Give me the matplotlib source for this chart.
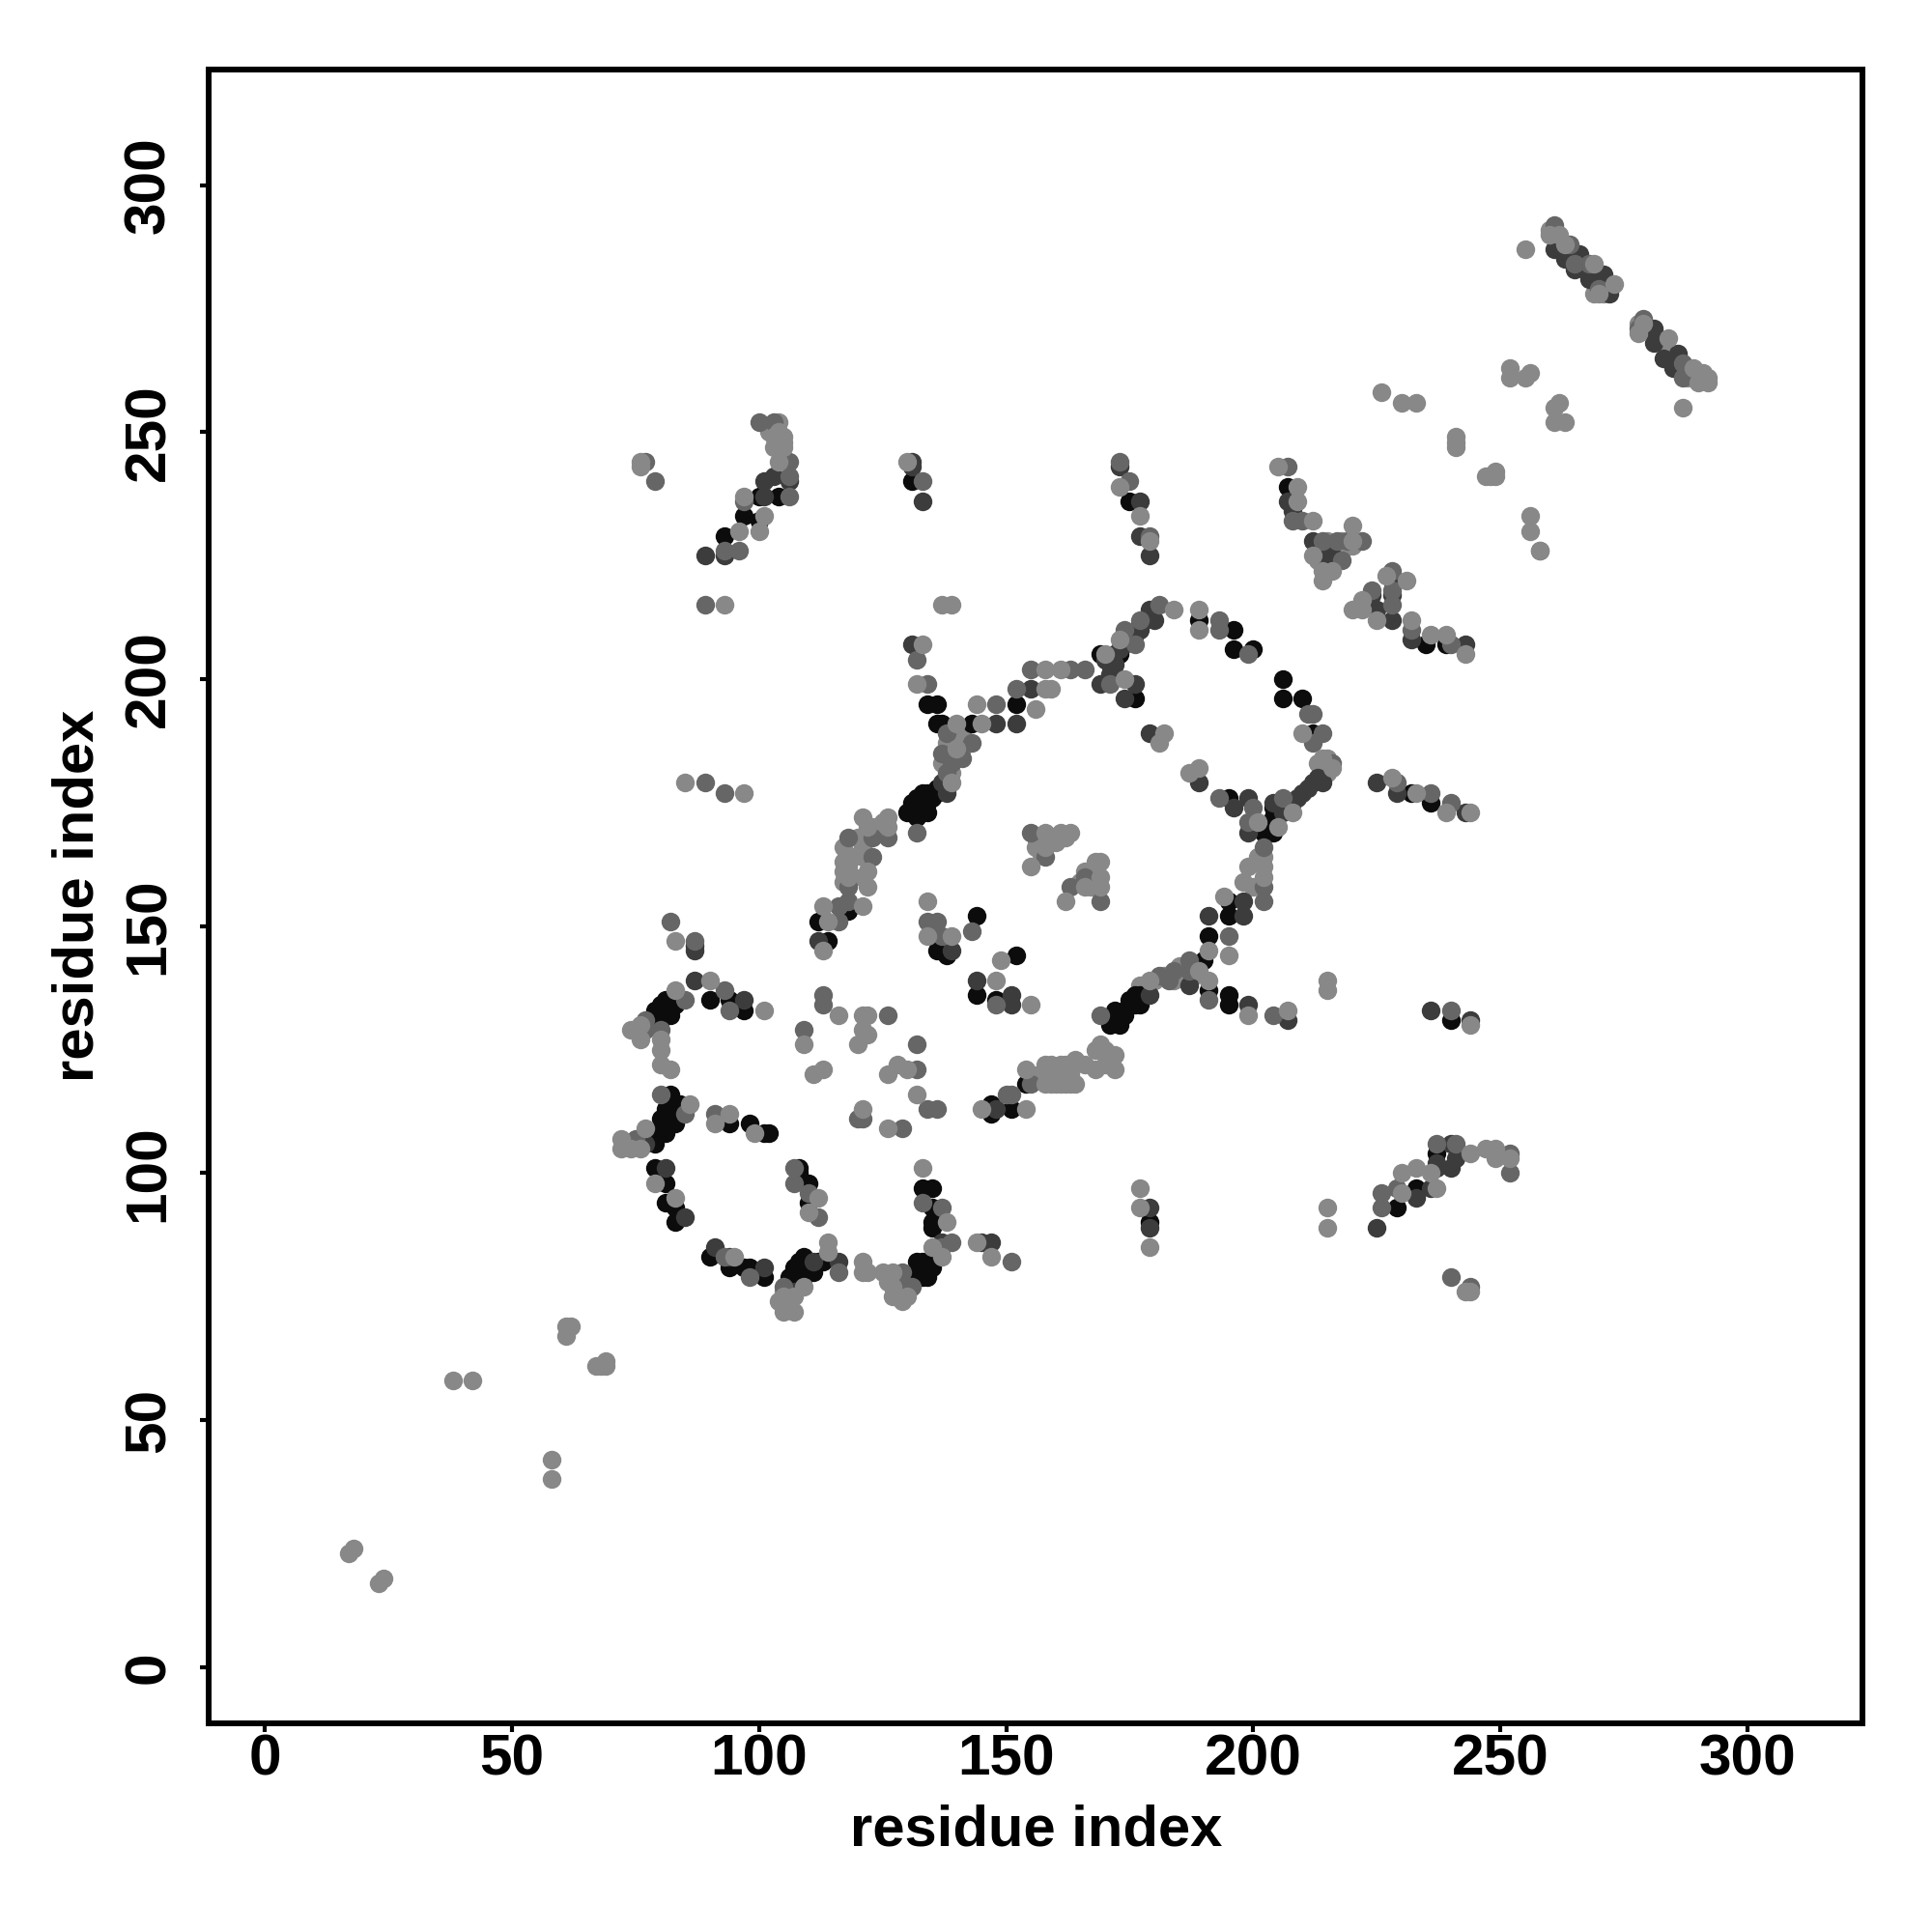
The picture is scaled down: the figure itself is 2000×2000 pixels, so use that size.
import numpy as np
import matplotlib
matplotlib.use("Agg")
import matplotlib.pyplot as plt

# residue contacts, one list per grey level
under_pts = [(117,166),(117,163),(117,161),(117,159),(119,164),(119,160),(121,166),(121,164),(121,160),(120,168),(123,170),(125,171),
    (159,118),(161,118),(162,118),(163,118),(161,120),(163,120),(160,120),(157,120),(156,119),(158,120),(159,122),(162,122),(155,120),(166,122),(168,121),(170,122),
    (169,126),(170,125),(172,124),(168,125),(172,121),(177,138),(180,139),(182,140),(184,139),(186,140),(188,140),(189,142),(185,142),(199,162),(201,164),(202,164),(200,158),
    (260,291),(261,290),(262,289),(263,287),(264,286),(266,284),(267,283),(269,282),(271,280),(272,279),(271,278),(269,278),(278,272),(280,271),(282,269),(283,268),(285,266),
    (286,264),(288,262),(289,261),(290,262),(288,261),(105,249),(104,249),(104,252),(102,250),(103,247),(167,160),(167,158),(168,161),(168,163),(168,159),(165,159),(166,161),
    (156,168),(157,167),(159,168),(160,168),(158,168),(156,166),(157,165),(158,167),(162,168),(137,183),(139,187),(140,188),(141,186),(139,181),(138,187),(141,189),(142,187),
    (213,227),(215,226),(217,226),(216,224),(218,226),(215,228),(218,228),(220,227),(213,224),(215,223),(105,76),(106,75),(104,74),(105,73),(106,73),(127,78),(128,76),(126,78),
    (128,78),(129,76),(213,183),(215,181),(215,184)]
black_pts = [(90,135),(94,135),(97,133),(81,135),(79,133),(82,132),(80,131),(82,116),(82,113),(83,110),(80,111),(79,108),(81,108),(79,106),
    (94,110),(98,110),(101,108),(102,108),(108,101),(108,100),(110,98),(110,94),(79,101),(81,98),(81,94),(83,93),(83,90),(90,83),(94,81),(97,81),(98,81),(101,79),
    (106,79),(107,81),(109,83),(108,79),(109,79),(111,80),(113,82),(131,79),(133,79),(135,81),(132,82),(133,82),(135,90),(135,89),(135,93),(133,97),(135,97),
    (147,114),(147,112),(151,113),(154,118),(134,195),(136,195),(136,191),(137,191),(143,191),(152,195),(169,205),(172,205),(173,205),(176,196),(189,212),
    (196,210),(196,206),(200,206),(206,200),(206,196),(210,196),(212,189),(195,176),(204,174),(204,172),(202,169),(204,169),(135,177),(136,177),(133,177),(134,175),
    (131,175),(130,173),(132,172),(112,151),(114,147),(118,153),(136,148),(136,145),(138,144),(144,152),(152,144),(144,136),(148,135),(173,130),(172,131),(174,132),
    (177,134),(176,136),(175,134),(190,143),(191,137),(195,136),(195,134),(191,148),(195,152),(195,155),(232,177),(236,175),(235,207),(239,207),(207,239),
    (104,237),(100,237),(97,233),(100,232),(93,229),(131,240),(175,236),(240,131),(237,104),(233,97),(229,93),(179,90),
    (174,133),(175,135),(172,133),(171,130),(173,132),(176,134),(177,136),(131,173),(133,174),(135,176),(136,178),(134,173),(132,176),(134,177),
    (81,133),(83,134),(79,131),(80,134),(84,135),(81,110),(80,109),(82,111),(83,112),(81,113),(84,114),(107,80),(108,82),(109,81),(110,82),(112,82),
    (133,80),(134,81),(132,80),(134,79),(136,83)]
dark_pts = [(87,146),(87,145),(87,139),(97,135),(77,106),(81,101),(85,91),(91,85),(94,83),(101,81),(107,76),(111,82),(116,82),(137,86),(145,86),(147,86),(148,113),
    (144,139),(151,136),(151,134),(148,191),(152,191),(155,198),(169,199),(177,210),(179,214),(176,199),(174,196),(179,189),(189,179),(131,207),(196,174),(199,176),
    (199,169),(210,177),(212,179),(214,179),(191,152),(198,152),(198,155),(187,138),(179,136),(207,131),(199,134),(139,145),(112,147),(207,236),(208,234),
    (214,225),(216,225),(228,220),(228,217),(228,212),(225,214),(224,217),(232,208),(243,207),(225,179),(229,177),(243,173),(212,228),(101,240),(103,241),(106,240),
    (101,237),(89,225),(93,225),(131,244),(131,243),(133,236),(177,229),(179,225),(177,236),(173,243),(236,133),(244,131),(240,106),(241,103),(237,101),(237,102),
    (240,101),(236,97),(233,95),(225,89),(261,287),(263,285),(266,286),(265,283),(268,281),(271,282),(272,278),(281,271),(281,268),(283,265),(286,266),(285,263),
    (179,89),(179,93),(170,204),(171,203),(173,206),(174,207),(175,208),(176,209),(178,212),(179,213),(180,212),(177,211),(171,201),(172,203),
    (137,179),(138,177),(204,175),(206,173),(208,175),(209,176),(211,178),(207,174),(213,180)]
mid_pts = [(82,151),(87,147),(93,137),(94,133),(85,135),(77,131),(77,129),(80,129),(80,116),(85,112),(75,107),(91,112),(113,136),(113,134),(126,132),(109,129),(132,126),
    (132,121),(134,113),(136,113),(129,109),(120,111),(121,111),(107,101),(107,98),(110,96),(112,91),(93,83),(98,79),(116,80),(105,77),(129,80),(131,77),(129,77),
    (137,85),(139,86),(133,94),(137,93),(151,82),(150,116),(151,116),(155,118),(148,134),(148,195),(152,198),(155,202),(163,202),(166,202),(171,199),(176,207),(174,210),
    (177,212),(181,215),(193,212),(193,210),(199,205),(138,181),(137,185),(141,184),(138,189),(139,183),(143,187),(132,169),(118,168),(123,168),(126,168),(123,164),
    (118,158),(118,155),(116,154),(116,151),(155,169),(158,164),(166,160),(163,158),(169,155),(134,151),(136,151),(137,148),(143,149),(169,132),(181,140),(184,141),
    (183,139),(187,143),(187,141),(191,135),(204,132),(195,148),(202,155),(202,158),(202,166),(199,171),(193,176),(200,174),(206,176),(216,183),(211,193),(212,193),
    (214,189),(212,187),(207,243),(208,232),(210,232),(214,228),(217,228),(219,228),(222,228),(218,224),(228,222),(228,218),(228,215),(224,218),(232,210),(240,175),
    (236,177),(229,179),(240,207),(258,226),(237,106),(241,106),(226,96),(229,97),(226,93),(252,104),(252,100),(240,133),(240,79),(244,77),(100,252),(103,252),(106,241),
    (106,237),(97,236),(96,226),(93,226),(89,215),(89,179),(93,177),(79,240),(77,244),(133,240),(132,204),(134,199),(106,244),(261,292),(264,288),(265,284),(268,284),
    (279,273),(278,271),(287,261),(287,264),(270,279),(175,240),(173,244),(179,229)]
light_pts = [(83,147),(90,139),(101,133),(83,137),(76,130),(74,129),(76,127),(80,127),(80,125),(80,122),(82,121),(86,114),(72,107),(72,105),(74,105),(76,105),(77,109),
    (91,110),(94,112),(99,108),(116,132),(121,132),(122,132),(121,129),(122,128),(120,126),(109,126),(111,120),(113,121),(126,120),(128,122),(130,121),(132,116),(121,113),
    (126,109),(110,92),(112,95),(83,95),(79,98),(95,83),(133,101),(121,82),(121,80),(122,80),(125,80),(127,80),(127,77),(127,75),(129,74),(130,75),(135,85),(137,83),
    (138,90),(114,86),(114,84),(109,77),(105,75),(105,72),(107,72),(106,74),(107,75),(144,86),(147,83),(145,113),(154,113),(154,121),(158,122),(158,118),(160,118),(164,118),
    (164,123),(161,122),(133,207),(132,199),(144,195),(145,191),(140,191),(156,194),(158,202),(161,202),(159,198),(158,198),(170,205),(173,208),(184,214),(174,200),(182,189),
    (181,187),(189,214),(189,210),(139,179),(140,186),(126,172),(121,172),(122,170),(126,170),(118,164),(118,162),(122,161),(118,160),(122,158),(121,154),(113,154),(114,151),
    (113,145),(158,169),(161,169),(163,169),(158,166),(160,167),(155,162),(169,163),(169,160),(169,158),(166,158),(162,155),(134,155),(134,148),(139,148),(149,143),(155,134),
    (148,139),(179,139),(189,141),(191,145),(191,139),(195,144),(199,132),(207,133),(215,139),(215,137),(194,156),(198,159),(202,162),(202,160),(201,171),(205,170),(208,173),
    (214,184),(216,182),(189,182),(187,181),(210,189),(205,243),(209,239),(209,236),(212,232),(220,231),(220,228),(212,225),(214,222),(216,222),(214,220),(231,220),(227,221),
    (222,216),(220,214),(222,214),(225,212),(232,212),(236,209),(239,209),(243,205),(228,180),(233,177),(239,173),(244,173),(104,250),(105,248),(103,249),(105,247),(104,244),
    (97,237),(101,233),(100,230),(96,230),(93,215),(85,179),(97,177),(76,244),(76,243),(130,244),(137,215),(139,215),(247,105),(249,105),(249,103),(252,103),(244,104),(233,101),
    (230,100),(236,100),(237,97),(230,96),(244,130),(243,76),(244,76),(215,93),(215,89),(177,97),(177,93),(179,85),(255,287),(260,290),(262,290),(263,288),(269,284),(273,280),
    (270,278),(278,270),(279,272),(290,260),(292,261),(292,260),(291,262),(289,263),(284,269),(287,255),(252,263),(252,261),(255,261),(256,262),(262,256),(261,255),(261,252),
    (263,252),(226,258),(230,256),(233,256),(241,249),(241,248),(241,247),(247,241),(248,241),(249,241),(249,242),(256,233),(256,230),(258,226),(173,239),(177,233),(179,228),
    (17,23),(18,24),(23,17),(24,18),(38,58),(42,58),(58,42),(58,38),(61,67),(61,69),(62,69),(67,61),(68,61),(69,61),(69,62)]

# under_pts goes first so the darker chains stay visible on top of it
groups = [(under_pts, "#888888"), (black_pts, "#0c0c0c"), (dark_pts, "#3c3c3c"), (mid_pts, "#666666"), (light_pts, "#888888")]
ticks = [0, 50, 100, 150, 200, 250, 300]

plt.rcParams['font.family'] = ['Liberation Sans', 'DejaVu Sans']
plt.rcParams['font.weight'] = 'bold'

fig = plt.figure(figsize=(20, 20), dpi=100)
ax = fig.add_axes([0.108, 0.108, 0.856, 0.856])

for pts, colour in groups:
    arr = np.array(pts)
    ax.scatter(arr[:, 0], arr[:, 1], s=195, c=colour, linewidths=0, zorder=3)

ax.set_xlim(-11.4, 323.3)
ax.set_ylim(-11.4, 323.4)
ax.set_xticks(ticks)
ax.set_yticks(ticks)
ax.tick_params(axis='x', length=6.3, width=3, labelsize=43.5, pad=1)
ax.tick_params(axis='y', length=6.3, width=3, labelsize=43.5, pad=18)
for lab in ax.get_yticklabels():
    lab.set_rotation(90)
    lab.set_va('center')
for side in ax.spines.values():
    side.set_linewidth(4.3)

fig.text(0.5365, 0.0525, "residue index", ha='center', va='center', fontsize=43, fontweight='bold')
fig.text(0.0405, 0.5365, "residue index", ha='center', va='center', rotation=90, fontsize=43, fontweight='bold')

fig.savefig("out.png", dpi=100)
